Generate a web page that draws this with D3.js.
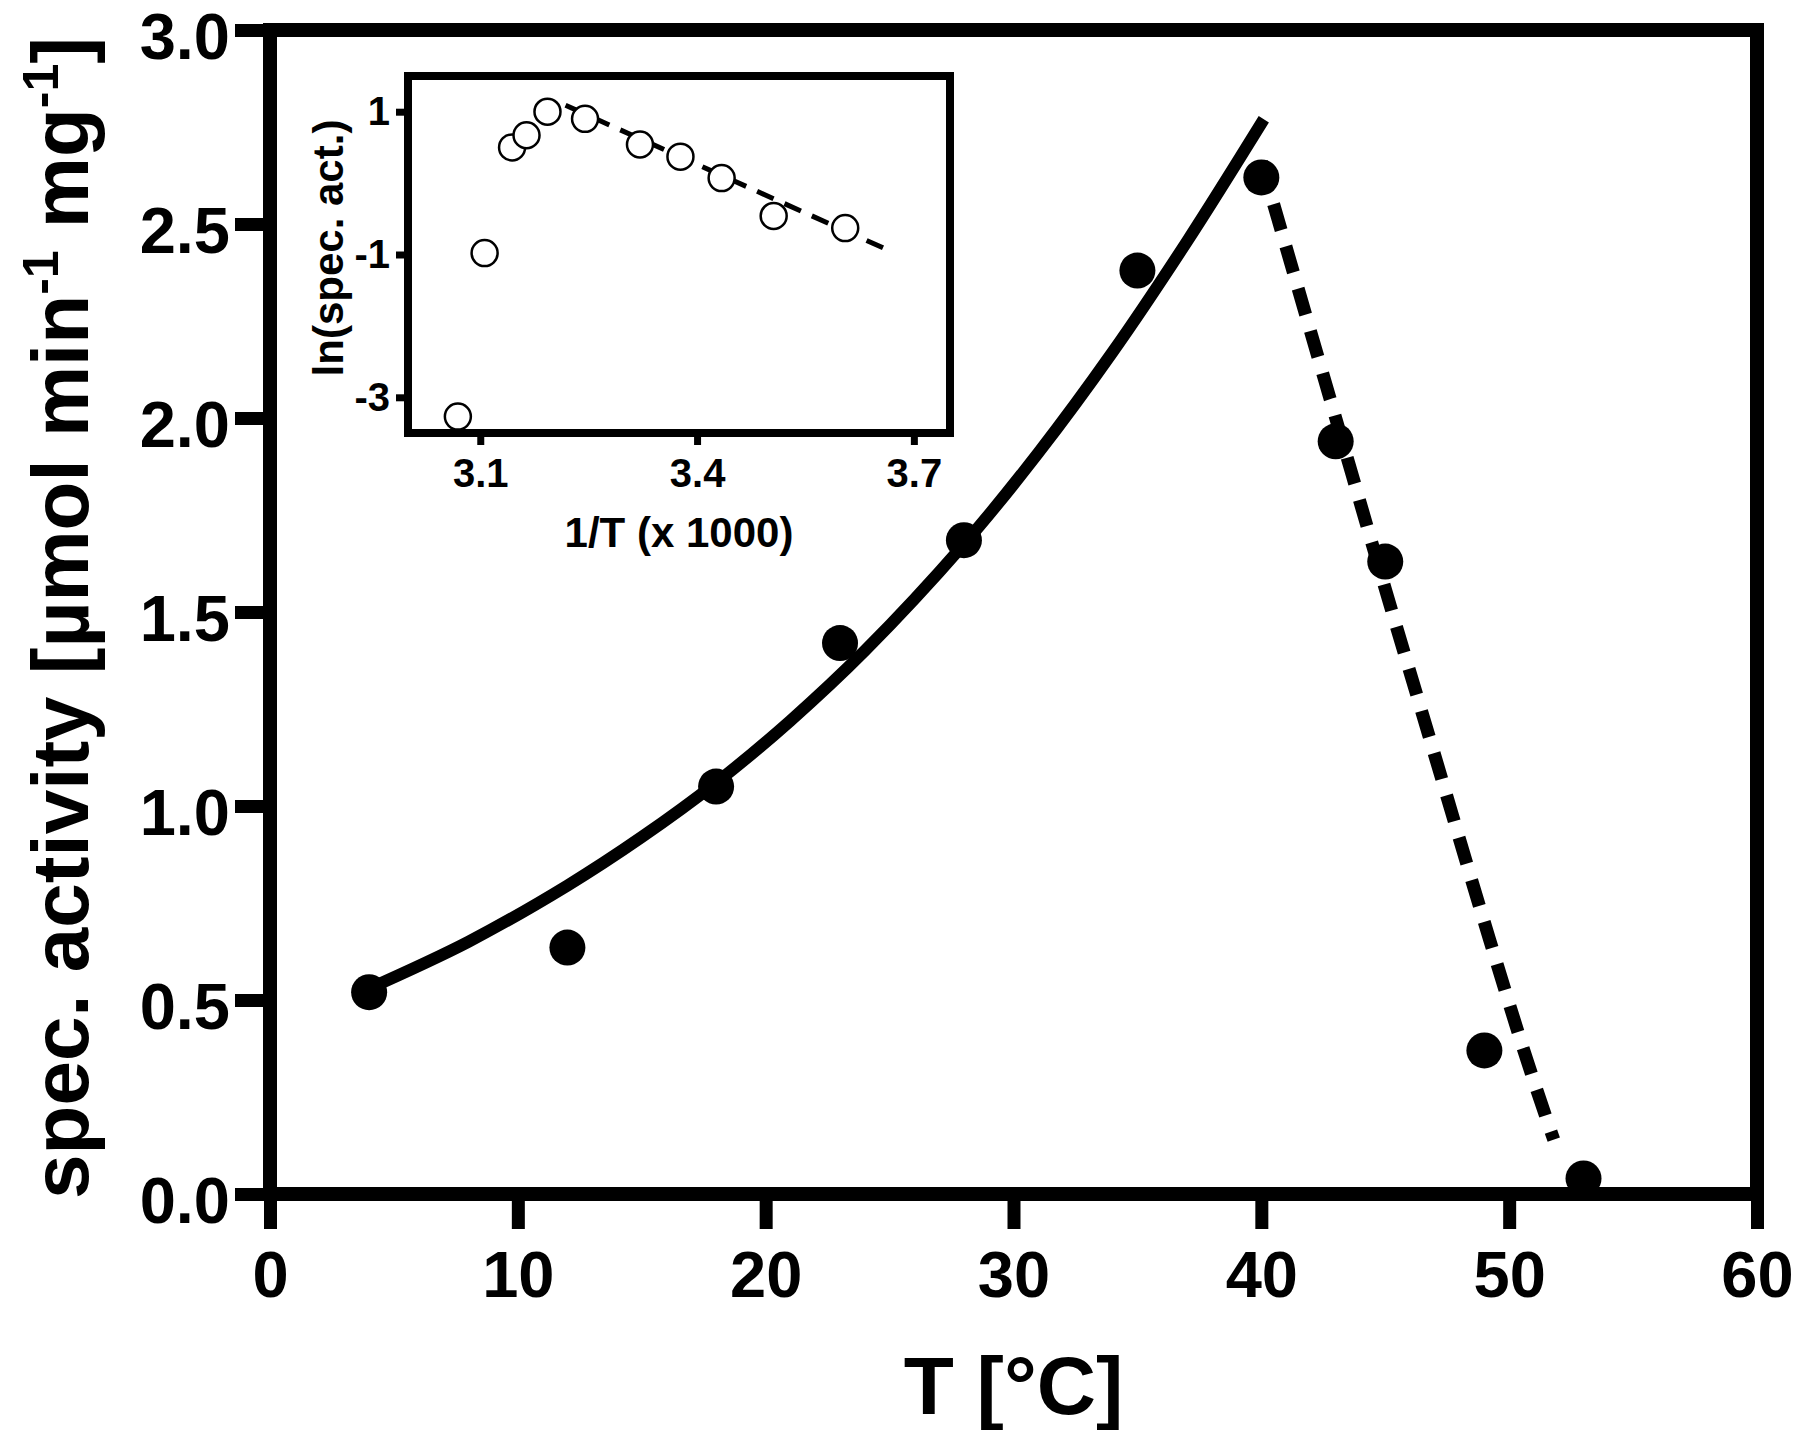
<!DOCTYPE html>
<html>
<head>
<meta charset="utf-8">
<script src="https://cdn.jsdelivr.net/npm/d3@7"></script>
<style>
  body { margin: 0; background: #fff; }
  text { font-family: Arial, "Liberation Sans", sans-serif; font-weight: bold; fill: #000; }
</style>
</head>
<body>
<svg width="1800" height="1430"></svg>
<script>
// measured points (main plot)
var temps = [4, 12, 18, 23, 28, 35, 40, 43, 45, 49, 53];
var activity = [0.52, 0.635, 1.05, 1.42, 1.685, 2.38, 2.62, 1.94, 1.63, 0.37, 0.04];

// fitted curves
var fitT = [3.9, 8, 12, 15, 18, 21, 24, 28, 31, 34, 37, 40.1];
var fitAct = [0.527, 0.65, 0.795, 0.92, 1.06, 1.22, 1.4, 1.675, 1.91, 2.17, 2.455, 2.77];
var dashT = [40, 43, 45, 47, 49, 51, 51.8];
var dashAct = [2.66, 2.0, 1.56, 1.13, 0.7, 0.29, 0.14];

// inset (Arrhenius plot)
var invT = [3.069, 3.106, 3.144, 3.164, 3.193, 3.245, 3.321, 3.377, 3.434, 3.506, 3.605];
var lnAct = [-3.27, -0.98, 0.5, 0.67, 1.0, 0.9, 0.54, 0.37, 0.07, -0.46, -0.63];
var arrT = [3.218, 3.658];
var arrLn = [1.09, -0.91];

var xTicks = [0, 10, 20, 30, 40, 50, 60];
var yTicks = [0, 0.5, 1.0, 1.5, 2.0, 2.5, 3.0];
var inXTicks = [3.1, 3.4, 3.7];
var inYTicks = [-3, -1, 1];

var svg = d3.select("svg");

// Main scales
var x = d3.scaleLinear().domain([0, 60]).range([270, 1757]);
var y = d3.scaleLinear().domain([0, 3]).range([1194, 30]);

// curves
var fitLine = d3.line()
  .x(function (d, i) { return x(fitT[i]); })
  .y(function (d, i) { return y(fitAct[i]); })
  .curve(d3.curveCatmullRom);

svg.append("path")
  .attr("d", fitLine(fitT))
  .attr("fill", "none")
  .attr("stroke", "#000")
  .attr("stroke-width", 12);

var dashLine = d3.line()
  .x(function (d, i) { return x(dashT[i]); })
  .y(function (d, i) { return y(dashAct[i]); })
  .curve(d3.curveMonotoneX);

svg.append("path")
  .attr("d", dashLine(dashT))
  .attr("fill", "none")
  .attr("stroke", "#000")
  .attr("stroke-width", 13)
  .attr("stroke-dasharray", "27,17");

// points
svg.append("g")
  .selectAll("circle")
  .data(temps)
  .enter()
  .append("circle")
  .attr("cx", function (d) { return x(d); })
  .attr("cy", function (d, i) { return y(activity[i]); })
  .attr("r", 18)
  .attr("fill", "#000");

// frame + axes
svg.append("rect")
  .attr("x", x(0))
  .attr("y", y(3))
  .attr("width", x(60) - x(0))
  .attr("height", y(0) - y(3))
  .attr("fill", "none")
  .attr("stroke", "#000")
  .attr("stroke-width", 14);

var xAxis = svg.append("g")
  .attr("transform", "translate(0," + y(0) + ")")
  .call(d3.axisBottom(x).tickValues(xTicks).tickFormat(d3.format("d"))
    .tickSizeInner(35).tickSizeOuter(0).tickPadding(22));

var yAxis = svg.append("g")
  .attr("transform", "translate(" + x(0) + ",0)")
  .call(d3.axisLeft(y).tickValues(yTicks).tickFormat(d3.format(".1f"))
    .tickSizeInner(35).tickSizeOuter(0).tickPadding(5));

[xAxis, yAxis].forEach(function (g) {
  g.select(".domain").remove();
  g.selectAll(".tick line").attr("stroke", "#000").attr("stroke-width", 13);
  g.selectAll(".tick text")
    .attr("font-size", 65)
    .attr("font-family", "Arial, 'Liberation Sans', sans-serif")
    .attr("font-weight", "bold")
    .attr("fill", "#000");
});
yAxis.selectAll(".tick text").attr("dy", "0.44em");

// axis titles
svg.append("text")
  .attr("x", (x(0) + x(60)) / 2)
  .attr("y", 1414)
  .attr("text-anchor", "middle")
  .attr("font-size", 82)
  .text("T [°C]");

var yTitle = svg.append("text")
  .attr("transform", "translate(88,618) rotate(-90)")
  .attr("text-anchor", "middle")
  .attr("font-size", 80);
yTitle.append("tspan").text("spec. activity [µmol min");
yTitle.append("tspan").attr("font-size", 50).attr("dy", -30).text("-1");
yTitle.append("tspan").attr("dy", 30).text(" mg");
yTitle.append("tspan").attr("font-size", 50).attr("dy", -30).text("-1");
yTitle.append("tspan").attr("dy", 30).text("]");

// ---- inset ----
var ix = d3.scaleLinear().domain([3.0, 3.75]).range([408, 950]);
var iy = d3.scaleLinear().domain([-3.5, 1.5]).range([433, 76]);

var inset = svg.append("g");

inset.append("rect")
  .attr("x", ix(3.0))
  .attr("y", iy(1.5))
  .attr("width", ix(3.75) - ix(3.0))
  .attr("height", iy(-3.5) - iy(1.5))
  .attr("fill", "#fff");

var arrLine = d3.line()
  .x(function (d, i) { return ix(arrT[i]); })
  .y(function (d, i) { return iy(arrLn[i]); });

inset.append("path")
  .attr("d", arrLine(arrT))
  .attr("fill", "none")
  .attr("stroke", "#000")
  .attr("stroke-width", 5)
  .attr("stroke-dasharray", "18,12");

inset.append("g")
  .selectAll("circle")
  .data(invT)
  .enter()
  .append("circle")
  .attr("cx", function (d) { return ix(d); })
  .attr("cy", function (d, i) { return iy(lnAct[i]); })
  .attr("r", 13)
  .attr("fill", "#fff")
  .attr("stroke", "#000")
  .attr("stroke-width", 2.5);

inset.append("rect")
  .attr("x", ix(3.0))
  .attr("y", iy(1.5))
  .attr("width", ix(3.75) - ix(3.0))
  .attr("height", iy(-3.5) - iy(1.5))
  .attr("fill", "none")
  .attr("stroke", "#000")
  .attr("stroke-width", 8);

var ixAxis = inset.append("g")
  .attr("transform", "translate(0," + iy(-3.5) + ")")
  .call(d3.axisBottom(ix).tickValues(inXTicks).tickFormat(d3.format(".1f"))
    .tickSizeInner(12).tickSizeOuter(0).tickPadding(14));

var iyAxis = inset.append("g")
  .attr("transform", "translate(" + ix(3.0) + ",0)")
  .call(d3.axisLeft(iy).tickValues(inYTicks).tickFormat(function (d) { return String(d); })
    .tickSizeInner(12).tickSizeOuter(0).tickPadding(6));

[ixAxis, iyAxis].forEach(function (g) {
  g.select(".domain").remove();
  g.selectAll(".tick line").attr("stroke", "#000").attr("stroke-width", 7);
  g.selectAll(".tick text")
    .attr("font-size", 40)
    .attr("font-family", "Arial, 'Liberation Sans', sans-serif")
    .attr("font-weight", "bold")
    .attr("fill", "#000");
});

inset.append("text")
  .attr("x", (ix(3.0) + ix(3.75)) / 2)
  .attr("y", 547)
  .attr("text-anchor", "middle")
  .attr("font-size", 42)
  .text("1/T (x 1000)");

inset.append("text")
  .attr("transform", "translate(343,248) rotate(-90)")
  .attr("text-anchor", "middle")
  .attr("font-size", 42)
  .text("ln(spec. act.)");
</script>
</body>
</html>
